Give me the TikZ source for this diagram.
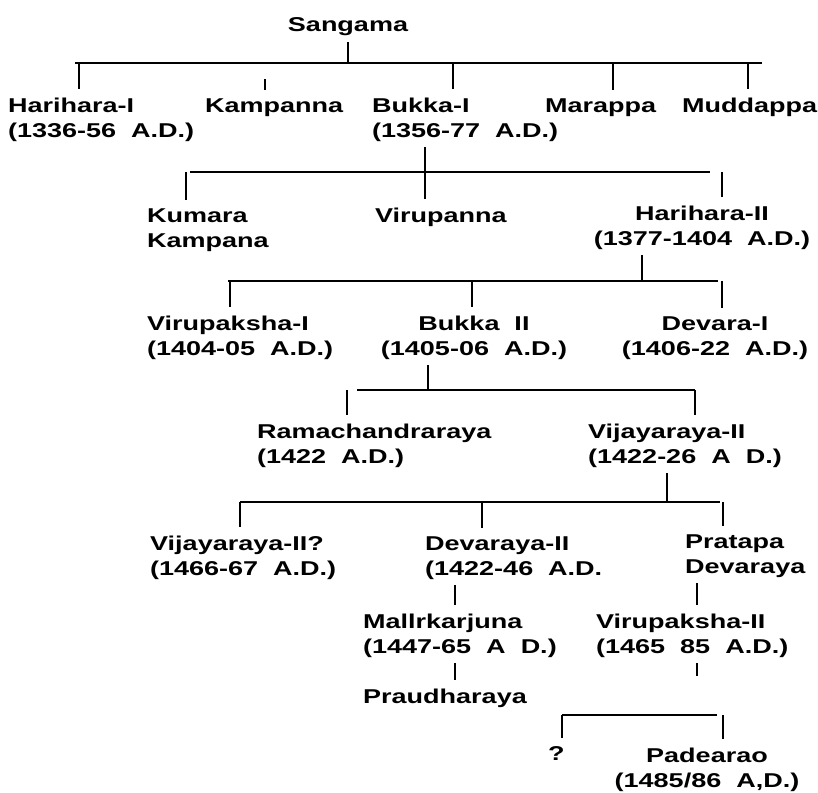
\documentclass[tikz,border=0pt]{standalone}
\usepackage{fontspec}
\setmainfont{Liberation Sans}[FakeStretch=1.35, WordSpace=2]

\begin{document}
\begin{tikzpicture}[
        x = 1pt, y = -1pt,
        every node/.style = {font=\fontsize{20}{25}\selectfont\bfseries, inner sep=0pt},
        member/.style = {anchor=base west, align=left},
        centred/.style = {anchor=base, align=center},
        bar/.style = {line width=1.5pt},
        tick/.style = {line width=1.5pt, shorten >=8pt},
        drop/.style = {line width=1.5pt, shorten <=6pt}
    ]
    \useasboundingbox (0,0) rectangle (818,792);

    % nodes sit on the baseline of their last line
    \node[centred] (sangama) at (348,32) {Sangama};

    \node[member] (hari1) at (8,137) {Harihara-I\\(1336-56 A.D.)};
    \node[member] (kampanna) at (205,112) {Kampanna};
    \node[member] (bukka1) at (372,137) {Bukka-I\\(1356-77 A.D.)};
    \node[member] (marappa) at (545,112) {Marappa};
    \node[member] (muddappa) at (682,112) {Muddappa};

    \node[member] (kumara) at (147,247) {Kumara\\Kampana};
    \node[member] (virupanna) at (375,222) {Virupanna};
    \node[centred] (hari2) at (702,245) {Harihara-II\\(1377-1404 A.D.)};

    \node[member] (virupaksha1) at (147,355) {Virupaksha-I\\(1404-05 A.D.)};
    \node[centred] (bukka2) at (474,355) {Bukka II\\(1405-06 A.D.)};
    \node[centred] (devara1) at (715,355) {Devara-I\\(1406-22 A.D.)};

    \node[member] (rama) at (257,463) {Ramachandraraya\\(1422 A.D.)};
    \node[member] (vijaya2) at (588,463) {Vijayaraya-II\\(1422-26 A D.)};

    \node[member] (vijaya2q) at (150,575) {Vijayaraya-II?\\(1466-67 A.D.)};
    \node[member] (devaraya2) at (425,575) {Devaraya-II\\(1422-46 A.D.};
    \node[member] (pratapa) at (685,573) {Pratapa\\Devaraya};

    \node[member] (mallik) at (363,653) {Mallrkarjuna\\(1447-65 A D.)};
    \node[member] (virupaksha2) at (596,653) {Virupaksha-II\\(1465 85 A.D.)};

    \node[member] (praudha) at (363,703) {Praudharaya};

    \node[member] (unknown) at (548,760) {?};
    \node[centred] (padearao) at (707,787) {Padearao\\(1485/86 A,D.)};

    % Sangama's sons
    \coordinate (bar1w) at (75,63);
    \coordinate (bar1e) at (762,63);
    \draw[drop] (sangama.south) -- (sangama.south |- bar1w);
    \draw[bar] (bar1w) -- (bar1e);
    \draw[tick] (bar1w -| 79,0) -- (hari1.north -| 79,0);
    \draw[tick, shorten <=16pt] (bar1w -| 265,0) -- (kampanna.north -| 265,0);
    \draw[tick] (bar1w -| 453,0) -- (bukka1.north -| 453,0);
    \draw[tick] (bar1w -| 613,0) -- (marappa.north -| 613,0);
    \draw[tick] (bar1w -| 748,0) -- (muddappa.north -| 748,0);

    % Bukka-I's sons
    \coordinate (bar2w) at (190,172);
    \coordinate (bar2e) at (710,172);
    \draw[bar] (bar2w) -- (bar2e);
    \draw[drop, shorten >=8pt] (bukka1.south -| 425,0) -- (virupanna.north -| 425,0);
    \draw[tick] (bar2w -| 186,0) -- (kumara.north -| 186,0);
    \draw[tick] (bar2w -| 722,0) -- (hari2.north -| 722,0);

    % Harihara-II's sons
    \coordinate (bar3w) at (228,281);
    \coordinate (bar3e) at (718,281);
    \draw[bar] (bar3w) -- (bar3e);
    \draw[drop] (hari2.south -| 642,0) -- (bar3w -| 642,0);
    \draw[tick] (bar3w -| 230,0) -- (virupaksha1.north -| 230,0);
    \draw[tick] (bar3w -| 472,0) -- (bukka2.north -| 472,0);
    \draw[tick] (bar3w -| 722,0) -- (devara1.north -| 722,0);

    % Bukka II's sons
    \coordinate (bar4w) at (357,390);
    \coordinate (bar4e) at (695,390);
    \draw[bar] (bar4w) -- (bar4e);
    \draw[drop] (bukka2.south -| 428,0) -- (bar4w -| 428,0);
    \draw[tick] (bar4w -| 347,0) -- (rama.north -| 347,0);
    \draw[tick] (bar4w -| 695,0) -- (vijaya2.north -| 695,0);

    % Vijayaraya-II's sons
    \coordinate (bar5w) at (240,502);
    \coordinate (bar5e) at (720,502);
    \draw[bar] (bar5w) -- (bar5e);
    \draw[drop] (vijaya2.south -| 667,0) -- (bar5w -| 667,0);
    \draw[tick] (bar5w -| 240,0) -- (vijaya2q.north -| 240,0);
    \draw[tick] (bar5w -| 482,0) -- (devaraya2.north -| 482,0);
    \draw[tick] (bar5w -| 723,0) -- (pratapa.north -| 723,0);

    % single lines
    \draw[drop, shorten >=8pt] (devaraya2.south -| 455,0) -- (mallik.north -| 455,0);
    \draw[drop, shorten >=8pt] (mallik.south -| 455,0) -- (praudha.north -| 455,0);
    \draw[drop, shorten >=8pt] (pratapa.south -| 697,0) -- (virupaksha2.north -| 697,0);
    \draw[drop] (virupaksha2.south -| 697,0) -- ++(0,19);

    % Virupaksha-II's sons
    \coordinate (bar7w) at (562,715);
    \coordinate (bar7e) at (717,715);
    \draw[bar, line width=2.5pt] (bar7w) -- (bar7e);
    \draw[tick] (bar7w -| 562,0) -- (unknown.north -| 562,0);
    \draw[tick] (bar7w -| 723,0) -- (padearao.north -| 723,0);

\end{tikzpicture}
\end{document}
